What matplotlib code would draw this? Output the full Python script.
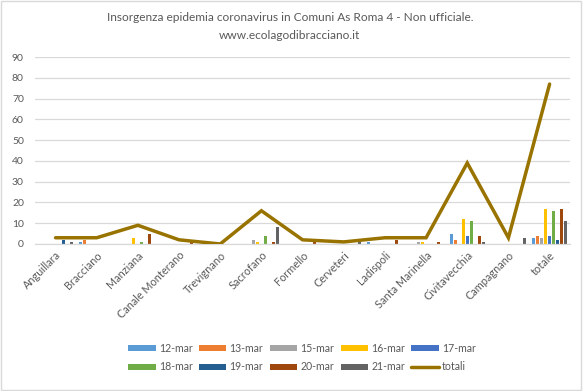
import matplotlib
matplotlib.use("Agg")
import matplotlib.pyplot as plt
import numpy as np
from matplotlib.patches import Rectangle

categories = ["Anguillara", "Bracciano", "Manziana", "Canale Monterano", "Trevignano",
              "Sacrofano", "Formello", "Cerveteri", "Ladispoli", "Santa Marinella",
              "Civitavecchia", "Campagnano", "totale"]
series_names = ["12-mar", "13-mar", "15-mar", "16-mar", "17-mar",
                "18-mar", "19-mar", "20-mar", "21-mar"]
v12 = [0, 1, 0, 0, 0, 0, 0, 0, 1, 0, 5, 0, 3]
v13 = [0, 2, 0, 0, 0, 0, 0, 0, 0, 0, 2, 0, 4]
v15 = [0, 0, 0, 0, 0, 2, 0, 0, 0, 1, 0, 0, 3]
v16 = [0, 0, 3, 0, 0, 1, 0, 0, 0, 1, 12, 0, 17]
v17 = [0, 0, 0, 0, 0, 0, 0, 0, 0, 0, 4, 0, 4]
v18 = [0, 0, 1, 0, 0, 4, 0, 0, 0, 0, 11, 0, 16]
v19 = [2, 0, 0, 0, 0, 0, 0, 0, 0, 0, 0, 0, 2]
v20 = [0, 0, 5, 2, 0, 1, 2, 0, 2, 1, 4, 0, 17]
v21 = [1, 0, 0, 0, 0, 8, 0, 1, 0, 0, 1, 3, 11]
totali = [3, 3, 9, 2, 0, 16, 2, 1, 3, 3, 39, 3, 77]
yticks = list(range(0, 91, 10))

series_values = [v12, v13, v15, v16, v17, v18, v19, v20, v21]
colors = ["#5B9BD5", "#ED7D31", "#A5A5A5", "#FFC000", "#4472C4",
          "#70AD47", "#255E91", "#9E480E", "#636363"]
line_color = "#997300"
text_color = "#595959"
font = "Lato"

fig = plt.figure(figsize=(5.83, 3.91), dpi=100)
fig.patches.append(Rectangle((0.002, 0.002), 0.995, 0.995, transform=fig.transFigure,
                             fill=False, edgecolor="#d9d9d9", linewidth=1))
ax = fig.add_axes([0.06, 0.376, 0.918, 0.478])

x = np.arange(len(categories))
step = 0.097
width = 0.072
bars = []
for i, (name, vals, c) in enumerate(zip(series_names, series_values, colors)):
    b = ax.bar(x + (i - 4) * step, vals, width=width, color=c, label=name, zorder=2)
    bars.append(b)
ln, = ax.plot(x, totali, color=line_color, linewidth=2.5, label="totali", zorder=3,
              solid_capstyle="round", solid_joinstyle="miter")

ax.set_xlim(-0.5, len(categories) - 0.5)
ax.set_ylim(0, 90)
ax.set_yticks(yticks)
ax.set_yticklabels([str(t) for t in yticks], fontsize=7.5, color=text_color, family=font)
ax.set_xticks(x)
ax.set_xticklabels(categories, rotation=45, ha="right", rotation_mode="anchor",
                   fontsize=7.8, color=text_color, family=font)
ax.tick_params(axis="both", length=0)
ax.tick_params(axis="y", pad=8)
ax.tick_params(axis="x", pad=4)
ax.grid(axis="y", color="#d9d9d9", linewidth=0.9, zorder=0)
ax.set_axisbelow(True)
for s in ["top", "right", "left"]:
    ax.spines[s].set_visible(False)
ax.spines["bottom"].set_color("#d9d9d9")
ax.spines["bottom"].set_linewidth(0.9)

fig.text(0.497, 0.955, "Insorgenza epidemia coronavirus in Comuni As Roma 4 - Non ufficiale.",
         ha="center", va="center", fontsize=8.6, color=text_color, family=font)
fig.text(0.497, 0.91, "www.ecolagodibracciano.it",
         ha="center", va="center", fontsize=8.6, color=text_color, family=font)

handles = bars + [ln]
labels = series_names + ["totali"]
order = [0, 5, 1, 6, 2, 7, 3, 8, 4, 9]
leg = fig.legend([handles[k] for k in order], [labels[k] for k in order],
                 loc="center", bbox_to_anchor=(0.518, 0.085), ncol=5, frameon=False,
                 handlelength=2.6, handleheight=0.5, columnspacing=0.6,
                 handletextpad=0.3, labelspacing=0.7,
                 prop={"family": font, "size": 7.6})
for t in leg.get_texts():
    t.set_color(text_color)

fig.savefig("out.png", dpi=100)
